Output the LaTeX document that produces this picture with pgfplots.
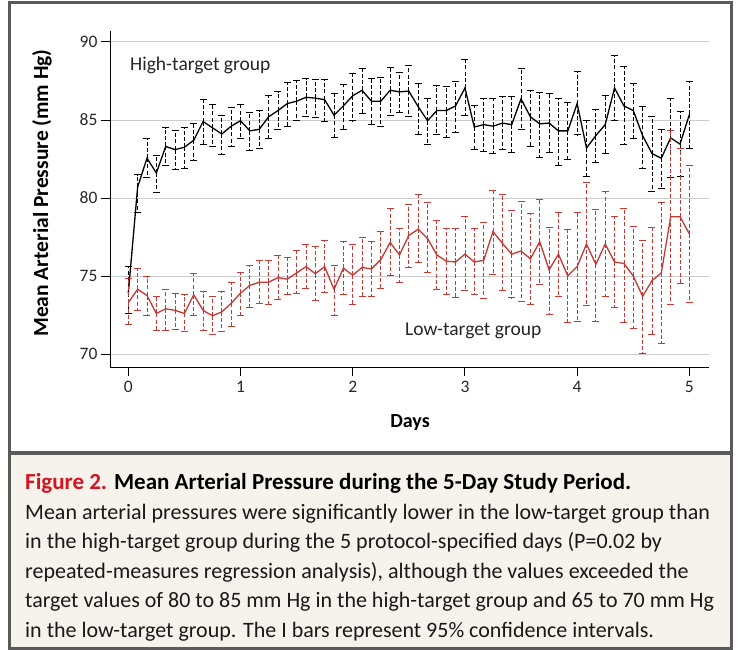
\documentclass[border=0pt]{standalone}
\usepackage{pgfplots}
\usepackage{pgfplotstable}
\pgfplotsset{compat=1.18}
\usepackage{fontspec}
\setmainfont{Carlito}
\definecolor{nejmred}{RGB}{198,56,52}
\definecolor{titlered}{RGB}{212,20,32}
\definecolor{framegray}{RGB}{90,90,90}
\definecolor{capbg}{RGB}{246,242,236}
\definecolor{gridgray}{RGB}{205,205,205}
\definecolor{ticktext}{RGB}{40,40,40}
\pgfplotstableread{
i y lo hi
0 73.9 72.6 75.6
1 80.7 79.1 81.5
2 82.55 81.3 83.8
3 81.6 80.35 82.7
4 83.3 82.1 84.5
5 83.1 81.8 84.35
6 83.25 81.9 84.5
7 83.7 82.4 84.8
8 84.9 83.45 86.3
9 84.5 83.3 86.0
10 84.1 82.8 85.3
11 84.6 83.3 85.8
12 84.95 83.8 86.0
13 84.3 83.05 85.5
14 84.4 83.15 85.6
15 85.2 83.8 86.6
16 85.6 84.4 86.8
17 86.05 84.6 87.4
18 86.2 84.95 87.5
19 86.45 85.2 87.65
20 86.4 85.15 87.6
21 86.3 84.9 87.6
22 85.3 83.85 86.7
23 85.9 84.4 87.3
24 86.55 84.95 88.0
25 86.9 85.4 88.3
26 86.2 84.7 87.65
27 86.2 84.6 87.7
28 86.9 85.3 88.35
29 86.8 85.45 88.05
30 86.85 85.2 88.5
31 85.85 84.1 87.35
32 84.95 83.4 86.4
33 85.6 84.05 87.2
34 85.6 83.9 87.15
35 85.9 84.2 87.45
36 87.05 85.3 88.85
37 84.55 83.1 85.9
38 84.7 83.0 86.4
39 84.6 82.85 86.35
40 84.8 83.1 86.5
41 84.7 82.9 86.5
42 86.35 84.4 88.3
43 85.2 83.3 86.9
44 84.75 82.6 86.75
45 84.8 82.9 86.7
46 84.3 82.1 86.4
47 84.3 82.5 86.1
48 86.05 84.05 88.1
49 83.2 81.4 85.0
50 84.0 82.25 85.7
51 84.7 82.85 86.6
52 87.05 84.95 89.15
53 85.9 83.45 88.45
54 85.6 83.8 87.35
55 84.0 81.9 85.85
56 82.85 80.4 85.2
57 82.55 80.6 84.4
58 83.85 81.3 86.4
59 83.45 81.4 85.55
60 85.35 83.2 87.45
}\hightab
\pgfplotstableread{
i y lo hi
0 73.3 71.9 74.85
1 74.15 72.8 75.5
2 73.75 72.45 74.95
3 72.6 71.5 73.7
4 72.9 71.5 74.15
5 72.8 71.55 73.9
6 72.6 71.45 73.8
7 73.8 72.5 75.15
8 72.8 71.5 74.0
9 72.45 71.25 73.7
10 72.7 71.45 74.0
11 73.25 71.8 74.6
12 73.9 72.5 75.2
13 74.4 73.0 75.7
14 74.6 73.25 76.0
15 74.6 73.2 76.0
16 74.9 73.5 76.3
17 74.8 73.8 76.2
18 75.2 73.9 76.65
19 75.6 74.2 77.0
20 75.15 73.45 76.9
21 75.6 73.95 77.25
22 74.15 72.5 75.65
23 75.5 73.8 77.2
24 75.05 73.15 77.0
25 75.55 73.7 77.45
26 75.45 73.7 77.2
27 76.05 74.2 77.85
28 77.15 75.05 79.3
29 76.35 74.6 78.05
30 77.6 75.55 79.6
31 78.0 75.9 80.2
32 77.4 75.2 79.7
33 76.35 74.15 78.55
34 75.95 73.8 78.05
35 75.9 73.65 78.05
36 76.4 74.1 78.8
37 75.9 73.8 78.05
38 76.0 73.55 78.45
39 77.85 75.1 80.5
40 77.1 74.1 80.2
41 76.4 73.6 79.2
42 76.6 73.4 79.8
43 76.1 73.15 79.0
44 77.2 74.45 79.9
45 75.4 72.55 78.1
46 76.4 73.7 79.1
47 75.0 72.05 78.0
48 75.6 72.1 79.1
49 77.05 73.1 81.0
50 75.75 72.1 79.25
51 77.05 73.7 80.4
52 75.9 73.0 78.8
53 75.8 72.05 79.3
54 75.0 71.65 78.2
55 73.7 70.05 77.25
56 74.7 71.25 78.1
57 75.2 70.7 79.7
58 78.8 73.2 84.35
59 78.8 74.55 83.15
60 77.7 73.3 82.1
}\lowtab
\begin{document}
\begin{tikzpicture}
\useasboundingbox (0pt,0pt) rectangle (740pt,-650pt);
\fill[white] (9.5pt,-2.5pt) rectangle (731.5pt,-453pt);
\fill[capbg] (9.5pt,-453pt) rectangle (731.5pt,-648.5pt);
\draw[framegray, line width=3pt] (9.5pt,-2.5pt) rectangle (731.5pt,-648.5pt);
\draw[framegray, line width=4pt] (9.5pt,-453pt) -- (731.5pt,-453pt);
\begin{axis}[
  at={(110pt,-367pt)}, anchor=south west,
  scale only axis, width=599pt, height=336pt,
  xmin=-0.163, xmax=5.175, ymin=69.17, ymax=90.7,
  axis x line*=bottom, axis y line*=left,
  axis line style={line width=0.9pt, black},
  xtick={0,1,2,3,4,5}, ytick={70,75,80,85,90},
  tick align=outside, major tick length=9pt,
  tick style={line width=0.9pt, black},
  ymajorgrids, grid style={gridgray, line width=0.9pt},
  /pgf/number format/assume math mode=true,
  tick label style={font=\fontsize{17.5}{20}\selectfont, text=ticktext},
  xticklabel style={yshift=-2pt},
  clip=false,
]
\addplot[black, line width=1.3pt,
  error bars/.cd, y dir=both, y explicit,
  error bar style={line width=0.8pt, dash pattern=on 4pt off 2.2pt},
  error mark options={rotate=90, mark size=3.5pt, solid, line width=0.9pt}]
  table[x expr=\thisrow{i}/12, y=y,
        y error plus expr=\thisrow{hi}-\thisrow{y},
        y error minus expr=\thisrow{y}-\thisrow{lo}] {\hightab};
\addplot[nejmred, line width=1.3pt,
  error bars/.cd, y dir=both, y explicit,
  error bar style={line width=0.8pt, dash pattern=on 4pt off 2.2pt},
  error mark options={rotate=90, mark size=3.5pt, solid, line width=0.9pt}]
  table[x expr=\thisrow{i}/12, y=y,
        y error plus expr=\thisrow{hi}-\thisrow{y},
        y error minus expr=\thisrow{y}-\thisrow{lo}] {\lowtab};
\end{axis}
\node[anchor=base, inner sep=0pt, font=\bfseries\fontsize{20}{22}\selectfont] at (410pt,-427pt) {Days};
\node[rotate=90, inner sep=0pt, font=\bfseries\fontsize{21.5}{24}\selectfont] at (42pt,-193pt) {Mean Arterial Pressure (mm Hg)};
\node[anchor=base west, inner sep=0pt, font=\fontsize{19.5}{22}\selectfont, text=black!85] at (130pt,-70.5pt) {High-target group};
\node[anchor=base west, inner sep=0pt, font=\fontsize{19.5}{22}\selectfont, text=black!85] at (405pt,-335pt) {Low-target group};
\node[anchor=base west, font=\bfseries\fontsize{23}{26}\selectfont, inner sep=0pt] at (25pt,-489pt) {\textcolor{titlered}{Figure 2.} Mean Arterial Pressure during the 5-Day Study Period.};
\begin{scope}[every node/.style={anchor=base west, inner sep=0pt, font=\fontsize{22}{26}\selectfont, text=black!90}]
\node at (25pt,-519pt) {Mean arterial pressures were significantly lower in the low-target group than};
\node at (25pt,-548.5pt) {in the high-target group during the 5 protocol-specified days (P=0.02 by};
\node at (25pt,-578pt) {repeated-measures regression analysis), although the values exceeded the};
\node at (25pt,-607.5pt) {target values of 80 to 85 mm Hg in the high-target group and 65 to 70 mm Hg};
\node at (25pt,-637pt) {in the low-target group. The I bars represent 95\% confidence intervals.};
\end{scope}
\end{tikzpicture}
\end{document}
